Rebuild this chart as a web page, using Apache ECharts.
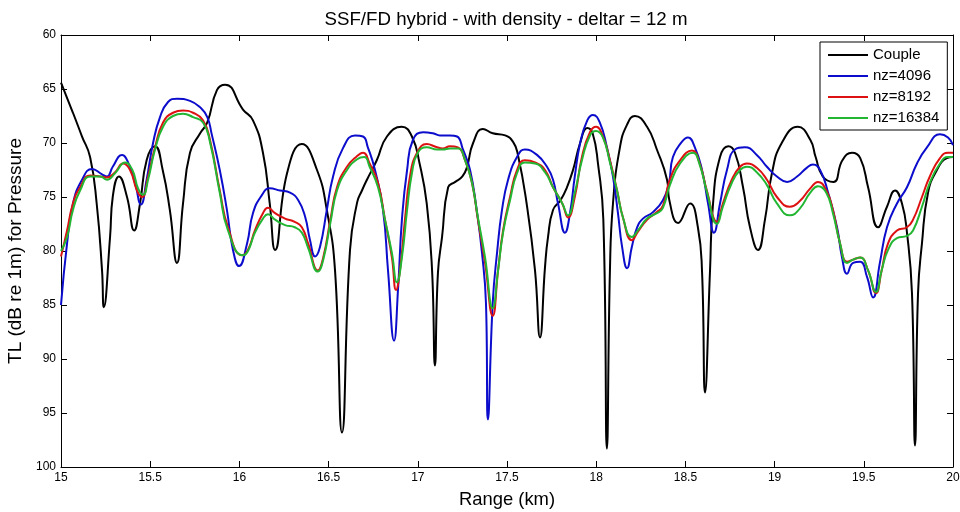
<!DOCTYPE html>
<html>
<head>
<meta charset="utf-8">
<script src="https://cdn.jsdelivr.net/npm/echarts@6/dist/echarts.min.js"></script>
<style>
  html, body { margin: 0; padding: 0; background: #fff; }
  #app { width: 960px; height: 512px; }
</style>
</head>
<body>
<div id="app"></div>
<script>
// range (km), TL (dB)
const couple = [
  [15.00, 64.4], [15.067, 67.2], [15.118, 69.4], [15.163, 71.3], [15.20, 75.6], [15.23, 81.8],
  [15.24, 85.2], [15.275, 78.7], [15.29, 75.0], [15.325, 73.1], [15.37, 75.0], [15.41, 78.1],
  [15.443, 75.6], [15.48, 71.6], [15.527, 70.3], [15.57, 72.5], [15.61, 76.2], [15.65, 81.1],
  [15.684, 75.6], [15.723, 70.9], [15.78, 69.1], [15.82, 68.1], [15.874, 65.1], [15.92, 64.6],
  [16.02, 66.9], [16.076, 67.9], [16.132, 70.9], [16.17, 75.6], [16.20, 79.9], [16.267, 72.8],
  [16.35, 70.1], [16.435, 72.5], [16.49, 76.2], [16.536, 81.8], [16.575, 96.8], [16.62, 79.9],
  [16.66, 75.5], [16.687, 74.4], [16.715, 73.4], [16.77, 71.6], [16.827, 69.4], [16.91, 68.5],
  [16.967, 69.4], [17.01, 71.9], [17.05, 75.6], [17.08, 81.8], [17.096, 90.6], [17.113, 82.0],
  [17.136, 78.7], [17.17, 74.1], [17.21, 73.6], [17.25, 73.1], [17.276, 72.2], [17.31, 70.0],
  [17.365, 68.7], [17.42, 69.1], [17.49, 69.3], [17.534, 69.9], [17.56, 71.0], [17.61, 75.6],
  [17.657, 81.8], [17.685, 88.0], [17.713, 81.5], [17.73, 78.7], [17.758, 76.2], [17.80, 75.3],
  [17.836, 74.1], [17.87, 72.5], [17.91, 70.0], [17.95, 68.6], [17.98, 69.1], [18.01, 71.9],
  [18.04, 77.1], [18.06, 98.3], [18.077, 81.8], [18.094, 75.6], [18.133, 70.4], [18.173, 68.3],
  [18.217, 67.5], [18.285, 68.5], [18.34, 70.6], [18.397, 73.4], [18.41, 75.3], [18.46, 77.4],
  [18.526, 75.6], [18.57, 77.8], [18.593, 81.8], [18.61, 93.1], [18.638, 81.8], [18.655, 75.6],
  [18.694, 71.3], [18.74, 70.3], [18.778, 70.9], [18.823, 74.1], [18.862, 77.8], [18.907, 79.9],
  [18.946, 77.1], [18.985, 72.8], [19.04, 70.0], [19.13, 68.5], [19.20, 69.7], [19.23, 71.3],
  [19.27, 73.1], [19.33, 73.6], [19.38, 71.6], [19.434, 70.9], [19.48, 71.4], [19.524, 74.1],
  [19.58, 77.8], [19.63, 75.9], [19.675, 74.4], [19.714, 75.6], [19.742, 78.3], [19.77, 83.9],
  [19.787, 98.0], [19.804, 83.9], [19.826, 79.3], [19.86, 74.6], [19.91, 72.5], [19.966, 71.4],
  [20.00, 71.3]
];

const nz4096 = [
  [15.00, 85.0], [15.034, 79.3], [15.067, 75.6], [15.118, 73.4], [15.174, 72.4], [15.23, 72.9],
  [15.258, 73.1], [15.29, 72.2], [15.342, 71.1], [15.376, 71.8], [15.415, 73.7], [15.448, 75.7],
  [15.48, 73.4], [15.516, 70.0], [15.555, 67.6], [15.60, 66.2], [15.65, 65.9], [15.723, 66.1],
  [15.78, 66.7], [15.82, 67.6], [15.845, 69.2], [15.89, 72.5], [15.93, 76.2], [15.964, 79.9],
  [15.998, 81.4], [16.043, 79.3], [16.076, 76.5], [16.127, 74.8], [16.17, 74.2], [16.228, 74.4],
  [16.284, 74.6], [16.33, 75.3], [16.368, 76.8], [16.396, 79.0], [16.424, 80.5], [16.452, 79.6],
  [16.49, 76.2], [16.525, 73.1], [16.58, 70.5], [16.648, 69.3], [16.693, 69.4], [16.72, 70.4],
  [16.76, 72.5], [16.805, 76.2], [16.833, 81.8], [16.867, 88.3], [16.89, 83.3], [16.911, 77.1],
  [16.94, 72.5], [16.973, 69.7], [17.03, 69.0], [17.085, 69.1], [17.124, 69.3], [17.18, 69.3],
  [17.22, 69.4], [17.253, 70.6], [17.293, 72.5], [17.33, 76.2], [17.36, 80.2], [17.382, 84.8],
  [17.393, 95.6], [17.42, 84.8], [17.444, 80.2], [17.472, 76.2], [17.506, 73.4], [17.556, 71.3],
  [17.60, 70.6], [17.668, 71.1], [17.724, 72.2], [17.758, 73.4], [17.786, 75.6], [17.825, 78.3],
  [17.853, 76.5], [17.88, 73.1], [17.91, 70.0], [17.95, 67.9], [17.982, 67.4], [18.02, 68.1],
  [18.06, 70.4], [18.094, 73.1], [18.122, 76.5], [18.145, 79.6], [18.173, 81.6], [18.20, 79.6],
  [18.23, 77.8], [18.262, 77.0], [18.318, 76.4], [18.374, 75.3], [18.408, 73.7], [18.43, 71.3],
  [18.48, 69.9], [18.514, 69.5], [18.553, 70.4], [18.593, 72.5], [18.627, 75.6], [18.66, 78.3],
  [18.694, 75.6], [18.733, 72.5], [18.778, 70.6], [18.834, 70.4], [18.90, 71.1], [18.957, 72.2],
  [19.013, 73.1], [19.07, 73.6], [19.126, 73.1], [19.18, 72.3], [19.215, 72.0], [19.255, 72.5],
  [19.30, 74.6], [19.35, 77.8], [19.378, 80.6], [19.406, 82.1], [19.44, 81.1], [19.48, 81.0],
  [19.518, 82.4], [19.552, 84.3], [19.59, 81.1], [19.63, 77.8], [19.686, 75.6], [19.742, 74.1],
  [19.798, 71.9], [19.854, 70.4], [19.927, 69.2], [19.972, 69.5], [20.00, 70.2]
];

const nz8192 = [
  [15.00, 80.5], [15.034, 78.1], [15.067, 75.6], [15.107, 74.1], [15.163, 73.0], [15.22, 73.1],
  [15.258, 73.2], [15.303, 72.7], [15.348, 71.9], [15.387, 72.5], [15.426, 74.4], [15.454, 75.0],
  [15.488, 73.1], [15.527, 70.4], [15.572, 68.1], [15.628, 67.2], [15.684, 67.0], [15.74, 67.2],
  [15.796, 67.9], [15.835, 69.7], [15.89, 74.4], [15.936, 77.8], [16.015, 80.4], [16.048, 79.9],
  [16.087, 78.1], [16.132, 76.5], [16.16, 76.0], [16.20, 76.5], [16.256, 77.0], [16.31, 77.3],
  [16.35, 77.8], [16.385, 79.3], [16.44, 81.8], [16.47, 80.6], [16.51, 77.1], [16.547, 74.1],
  [16.603, 72.2], [16.66, 71.2], [16.693, 70.9], [16.73, 71.9], [16.777, 73.7], [16.816, 77.1],
  [16.855, 80.6], [16.878, 83.6], [16.90, 81.8], [16.928, 77.1], [16.956, 73.1], [16.996, 70.9],
  [17.05, 70.1], [17.108, 70.4], [17.14, 70.5], [17.18, 70.3], [17.225, 70.4], [17.265, 71.6],
  [17.304, 73.7], [17.337, 77.1], [17.377, 81.1], [17.42, 86.0], [17.45, 81.8], [17.478, 78.1],
  [17.517, 75.0], [17.556, 72.5], [17.60, 71.6], [17.657, 71.8], [17.713, 72.5], [17.758, 74.1],
  [17.81, 75.6], [17.842, 76.9], [17.88, 75.0], [17.92, 71.3], [17.965, 69.0], [17.999, 68.5],
  [18.038, 69.4], [18.077, 71.6], [18.117, 74.4], [18.15, 76.9], [18.20, 79.0], [18.234, 78.2],
  [18.285, 77.1], [18.34, 76.4], [18.374, 75.8], [18.413, 73.4], [18.47, 71.6], [18.537, 70.7],
  [18.58, 71.9], [18.62, 74.4], [18.677, 77.3], [18.71, 75.6], [18.76, 73.4], [18.806, 72.2],
  [18.845, 71.9], [18.90, 72.3], [18.957, 73.4], [19.013, 75.0], [19.086, 75.9], [19.14, 75.4],
  [19.20, 74.2], [19.243, 73.6], [19.29, 74.4], [19.327, 76.2], [19.367, 79.3], [19.406, 81.0],
  [19.44, 80.8], [19.48, 80.6], [19.524, 81.8], [19.568, 83.9], [19.60, 81.8], [19.636, 79.3],
  [19.686, 78.1], [19.742, 77.8], [19.776, 77.1], [19.826, 75.0], [19.87, 73.1], [19.927, 71.4],
  [19.972, 70.9], [20.00, 70.9]
];

const nz16384 = [
  [15.00, 80.0], [15.034, 78.7], [15.067, 76.2], [15.107, 74.4], [15.163, 73.1], [15.22, 73.1],
  [15.258, 73.4], [15.303, 72.8], [15.36, 71.8], [15.40, 72.5], [15.432, 74.2], [15.46, 74.8],
  [15.488, 73.4], [15.527, 70.6], [15.572, 68.5], [15.628, 67.5], [15.684, 67.3], [15.74, 67.6],
  [15.796, 68.1], [15.835, 69.9], [15.89, 74.6], [15.936, 78.1], [16.02, 80.4], [16.048, 80.0],
  [16.087, 78.3], [16.132, 77.0], [16.16, 76.6], [16.20, 77.1], [16.256, 77.6], [16.31, 77.8],
  [16.35, 78.3], [16.385, 79.7], [16.44, 81.9], [16.47, 80.8], [16.51, 77.4], [16.547, 74.4],
  [16.603, 72.5], [16.66, 71.5], [16.70, 71.3], [16.73, 72.2], [16.777, 74.1], [16.816, 77.1],
  [16.855, 80.2], [16.883, 82.9], [16.911, 80.6], [16.94, 76.2], [16.967, 72.8], [17.00, 70.9],
  [17.05, 70.4], [17.108, 70.6], [17.14, 70.6], [17.18, 70.5], [17.225, 70.5], [17.265, 71.6],
  [17.304, 73.7], [17.337, 76.9], [17.377, 80.6], [17.42, 85.3], [17.45, 81.8], [17.478, 78.3],
  [17.517, 75.3], [17.556, 72.8], [17.60, 71.8], [17.657, 71.9], [17.713, 72.7], [17.758, 74.1],
  [17.81, 75.6], [17.842, 76.7], [17.88, 74.6], [17.92, 71.6], [17.965, 69.3], [17.999, 68.9],
  [18.038, 69.5], [18.077, 71.8], [18.117, 74.4], [18.15, 76.9], [18.20, 78.7], [18.234, 78.1],
  [18.285, 77.0], [18.34, 76.5], [18.374, 76.0], [18.413, 73.9], [18.47, 71.9], [18.543, 70.9],
  [18.58, 72.0], [18.62, 74.5], [18.677, 77.5], [18.71, 75.9], [18.76, 73.7], [18.806, 72.5],
  [18.845, 72.2], [18.90, 72.7], [18.957, 73.9], [19.013, 75.6], [19.086, 76.7], [19.14, 76.1],
  [19.20, 74.6], [19.243, 74.0], [19.29, 74.6], [19.327, 76.5], [19.367, 79.3], [19.406, 81.1],
  [19.44, 80.8], [19.48, 80.6], [19.524, 81.8], [19.568, 83.8], [19.60, 81.8], [19.636, 79.9],
  [19.686, 78.8], [19.742, 78.6], [19.776, 78.1], [19.826, 75.9], [19.87, 73.7], [19.927, 71.9],
  [19.972, 71.3], [20.00, 71.3]
];

const seriesNames = ["Couple", "nz=4096", "nz=8192", "nz=16384"];
const seriesColors = ["#000000", "#0c0ccc", "#dd1111", "#22b633"];
const seriesData = [couple, nz4096, nz8192, nz16384];

const font = "Liberation Sans, Arial, sans-serif";

function makeSeries() {
  return seriesData.map((data, i) => ({
    name: seriesNames[i],
    type: "line",
    data,
    showSymbol: false,
    symbol: "none",
    smooth: 0.5,
    lineStyle: { color: seriesColors[i], width: 2 },
    itemStyle: { color: seriesColors[i] },
    emphasis: { disabled: true }
  }));
}

function frameAxis(extra) {
  return Object.assign({
    type: "value",
    axisLine: { show: true, onZero: false, lineStyle: { color: "#000", width: 1 } },
    axisTick: { show: true, inside: true, length: 6, lineStyle: { color: "#000" } },
    splitLine: { show: false },
    axisLabel: { show: false }
  }, extra);
}

var chart = echarts.init(document.getElementById("app"), null, { renderer: "canvas" });
chart.setOption({
  animation: false,
  backgroundColor: "#fff",
  title: {
    text: "SSF/FD hybrid - with density - deltar = 12 m",
    left: 501,
    textAlign: "center",
    top: 5,
    textStyle: { fontFamily: font, fontSize: 18.7, fontWeight: "normal", color: "#000" }
  },
  legend: {
    orient: "vertical",
    left: 820,
    top: 42,
    padding: [5, 8, 4, 8],
    icon: "rect",
    itemWidth: 40,
    itemHeight: 2,
    itemGap: 5,
    backgroundColor: "#fff",
    borderColor: "#000",
    borderWidth: 1,
    borderRadius: 0,
    textStyle: { fontFamily: font, fontSize: 15, color: "#000", lineHeight: 16 },
    data: seriesNames
  },
  grid: { left: 61, right: 7, top: 35, bottom: 45, outerBoundsMode: "none", containLabel: false },
  xAxis: [
    frameAxis({
      min: 15, max: 20, interval: 0.5,
      position: "bottom",
      name: "Range (km)",
      nameLocation: "middle",
      nameGap: 24,
      nameTextStyle: { fontFamily: font, fontSize: 18.4, color: "#000" },
      axisLabel: { show: true, margin: 5, fontFamily: font, fontSize: 12, color: "#000" }
    }),
    frameAxis({ min: 15, max: 20, interval: 0.5, position: "top" })
  ],
  yAxis: [
    frameAxis({
      min: 60, max: 100, interval: 5,
      inverse: true,
      position: "left",
      name: "TL (dB re 1m) for Pressure",
      nameLocation: "middle",
      nameGap: 24,
      nameTextStyle: { fontFamily: font, fontSize: 19, color: "#000" },
      axisLabel: { show: true, margin: 5, fontFamily: font, fontSize: 12, color: "#000" }
    }),
    frameAxis({ min: 60, max: 100, interval: 5, inverse: true, position: "right" })
  ],
  series: makeSeries()
});
</script>
</body>
</html>
